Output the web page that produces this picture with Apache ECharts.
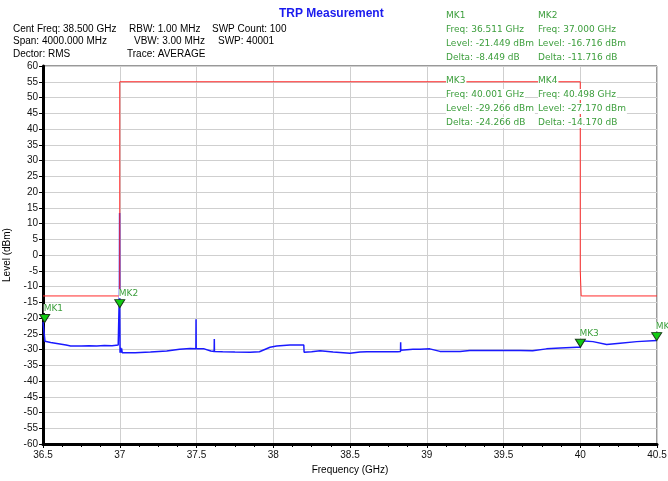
<!DOCTYPE html>
<html>
<head>
    <meta charset="utf-8">
    <title>TRP Measurement</title>
    <script src="https://cdn.jsdelivr.net/npm/echarts@6/dist/echarts.min.js"></script>
</head>
<body style="margin:0;background:#fff;">
    <div id="main" style="width:668px;height:481px;"></div>
    <script type="text/javascript">
        // measured trace (GHz, dBm)
        var traceFreq = [36.500, 36.511, 36.513, 36.55, 36.60, 36.65, 36.68, 36.75, 36.80, 36.85, 36.90, 36.95, 36.99, 36.997,
            36.998, 36.999, 37.000, 37.002, 37.005, 37.008, 37.012, 37.016, 37.02, 37.10, 37.20, 37.306, 37.39, 37.458, 37.496,
            37.497, 37.498, 37.55, 37.593, 37.615, 37.616, 37.617, 37.67, 37.75, 37.85, 37.91, 37.979, 38.022, 38.109, 38.199,
            38.201, 38.25, 38.305, 38.39, 38.50, 38.565, 38.61, 38.70, 38.81, 38.829, 38.830, 38.831, 38.91, 38.956, 39.02,
            39.086, 39.217, 39.28, 39.45, 39.61, 39.69, 39.78, 39.87, 39.977, 40.001, 40.003, 40.083, 40.172, 40.259, 40.368,
            40.498, 40.500];
        var traceLevel = [-21.3, -21.449, -27.4, -27.8, -28.2, -28.6, -28.9, -28.9, -28.8, -28.9, -28.7, -28.8, -28.6, -28.7,
            -10.8, 13.3, -16.716, -31.0, -29.4, -31.0, -29.6, -31.0, -30.9, -31.0, -30.8, -30.5, -29.9, -29.7, -29.8,
            -20.4, -29.8, -29.8, -30.5, -30.6, -26.7, -30.6, -30.7, -30.8, -30.9, -30.7, -29.3, -28.9, -28.6, -28.6,
            -30.9, -30.7, -30.4, -30.8, -31.2, -30.8, -30.7, -30.7, -30.7, -30.6, -27.7, -30.2, -29.9, -29.9, -29.8,
            -30.6, -30.6, -30.3, -30.3, -30.3, -30.4, -29.8, -29.5, -29.3, -29.266, -27.2, -27.5, -28.4, -28.0, -27.5,
            -27.17, -27.0];

        // limit mask
        var limitFreq = [36.5, 37.0, 37.0, 40.0, 40.0, 40.006, 40.006, 40.5];
        var limitLevel = [-13, -13, 55, 55, -5, -5, -13, -13];

        // markers
        var markerNames = ['MK1', 'MK2', 'MK3', 'MK4'];
        var markerFreqs = ['36.511', '37.000', '40.001', '40.498'];
        var markerLevels = ['-21.449', '-16.716', '-29.266', '-27.170'];
        var markerDeltas = ['-8.449', '-11.716', '-24.266', '-14.170'];

        // header
        var headerLines = [
            ['Cent Freq: 38.500 GHz', 'RBW: 1.00 MHz', 'SWP Count: 100'],
            ['Span: 4000.000 MHz', 'VBW: 3.00 MHz', 'SWP: 40001'],
            ['Dector: RMS', 'Trace: AVERAGE', '']
        ];

        var textFont = 'Liberation Sans, Arial, sans-serif';
        var mkFont = 'DejaVu Sans, Verdana, sans-serif';
        var green = '#3c9e3c';

        function zip(a, b) {
            var out = [];
            for (var i = 0; i < a.length; i++) out.push([a[i], b[i]]);
            return out;
        }

        var graphics = [];
        // header text block
        var headerXs = [[13, 129, 212], [13, 134, 218], [13, 127, 0]];
        for (var r = 0; r < headerLines.length; r++) {
            for (var c = 0; c < headerLines[r].length; c++) {
                if (!headerLines[r][c]) continue;
                graphics.push({
                    type: 'text', left: headerXs[r][c], top: 24 + r * 12.5, z: 100,
                    style: { text: headerLines[r][c], font: '10px ' + textFont, fill: '#000' }
                });
            }
        }
        // marker info blocks
        var blockX = [446, 538, 446, 538];
        var blockY = [10, 10, 75, 75];
        for (var m = 0; m < markerNames.length; m++) {
            var lines = [
                markerNames[m],
                'Freq: ' + markerFreqs[m] + ' GHz',
                'Level: ' + markerLevels[m] + ' dBm',
                'Delta: ' + markerDeltas[m] + ' dB'
            ];
            for (var k = 0; k < lines.length; k++) {
                graphics.push({
                    type: 'text', left: blockX[m], top: blockY[m] + k * 14, z: 100,
                    style: {
                        text: lines[k], font: '9px ' + mkFont, fill: green,
                        backgroundColor: '#fff', padding: [1, 1, 1, 0]
                    }
                });
            }
        }

        var markerData = [];
        for (var i = 0; i < markerNames.length; i++) {
            markerData.push({ name: markerNames[i], value: [parseFloat(markerFreqs[i]), parseFloat(markerLevels[i])] });
        }

        var myChart = echarts.init(document.getElementById('main'));
        var option = {
            backgroundColor: '#fff',
            animation: false,
            title: {
                text: 'TRP Measurement',
                left: 274,
                top: 3,
                textStyle: { fontFamily: textFont, fontSize: 12, fontWeight: 'bold', color: '#1a1aee' }
            },
            graphic: graphics,
            grid: {
                left: 43, top: 66, width: 614, height: 378,
                outerBoundsMode: 'none',
                containLabel: false,
                show: true, borderColor: '#333', borderWidth: 1, backgroundColor: '#fff'
            },
            xAxis: {
                type: 'value',
                min: 36.5, max: 40.5, interval: 0.5,
                name: 'Frequency (GHz)',
                nameLocation: 'middle',
                nameGap: 19,
                nameTextStyle: { fontFamily: textFont, fontSize: 10, color: '#000' },
                axisLine: { onZero: false, lineStyle: { color: '#000', width: 3 } },
                axisTick: { length: 4, lineStyle: { color: '#000' } },
                minorTick: { show: true, splitNumber: 4, length: 3, lineStyle: { color: '#000' } },
                axisLabel: { fontFamily: textFont, fontSize: 10, color: '#111', margin: 6 },
                splitLine: { lineStyle: { color: '#cfcfcf', width: 1 } }
            },
            yAxis: {
                type: 'value',
                min: -60, max: 60, interval: 5,
                name: 'Level (dBm)',
                nameLocation: 'middle',
                nameGap: 28,
                nameTextStyle: { fontFamily: textFont, fontSize: 10, color: '#000' },
                axisLine: { onZero: false, lineStyle: { color: '#000', width: 3 } },
                axisTick: { length: 4, lineStyle: { color: '#000' } },
                axisLabel: { fontFamily: textFont, fontSize: 10, color: '#111', margin: 5 },
                splitLine: { lineStyle: { color: '#cfcfcf', width: 1 } }
            },
            series: [{
                type: 'line',
                name: 'Trace',
                data: zip(traceFreq, traceLevel),
                showSymbol: false,
                symbol: 'none',
                lineStyle: { color: '#1a1aff', width: 1.5 },
                z: 2
            }, {
                type: 'line',
                name: 'Limit',
                data: zip(limitFreq, limitLevel),
                showSymbol: false,
                symbol: 'none',
                lineStyle: { color: '#ff2a2a', width: 1 },
                z: 3
            }, {
                type: 'scatter',
                name: 'Markers',
                data: markerData,
                symbol: 'triangle',
                symbolRotate: 180,
                symbolSize: [10, 8],
                symbolOffset: [0, '-50%'],
                itemStyle: { color: '#11cc11', borderColor: '#1a3a1a', borderWidth: 1, opacity: 1 },
                label: {
                    show: true,
                    position: 'top',
                    align: 'left',
                    distance: 1,
                    offset: [-1, 0],
                    formatter: '{b}',
                    fontFamily: mkFont,
                    fontSize: 9,
                    color: green,
                    backgroundColor: '#fff'
                },
                z: 5
            }]
        };
        myChart.setOption(option);
    </script>
</body>
</html>
